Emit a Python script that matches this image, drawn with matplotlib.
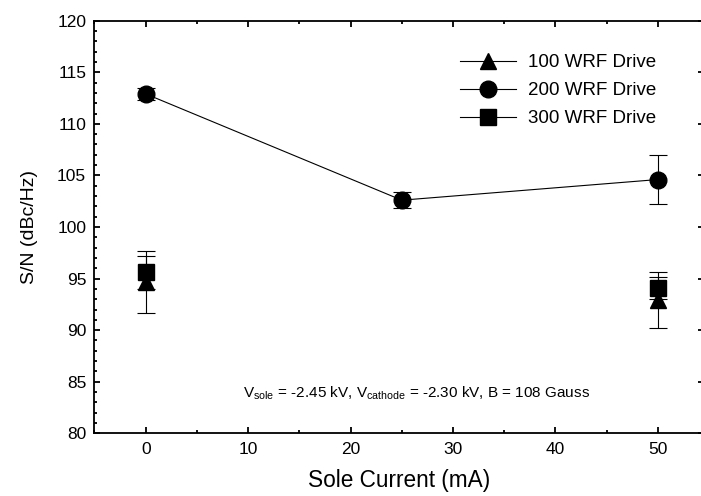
import matplotlib
matplotlib.use("Agg")
import matplotlib.pyplot as plt
from matplotlib.lines import Line2D
from matplotlib.ticker import MultipleLocator

# data
current_200 = [0, 25, 50]
sn_200 = [112.9, 102.6, 104.6]
err_200 = [0.6, 0.8, 2.35]

current_100 = [0, 50]
sn_100 = [94.7, 92.9]
err_100 = [3.0, 2.7]

current_300 = [0, 50]
sn_300 = [95.6, 94.1]
err_300 = [1.6, 1.1]

labels = ["100 WRF Drive", "200 WRF Drive", "300 WRF Drive"]

plt.rcParams["font.family"] = ["Liberation Sans", "DejaVu Sans"]
plt.rcParams["mathtext.fontset"] = "custom"
plt.rcParams["mathtext.rm"] = "Liberation Sans"

fig = plt.figure(figsize=(7.01, 4.96), dpi=100)
ax = fig.add_axes([0.1348, 0.1264, 0.8695, 0.8319])

ebkw = dict(color="black", elinewidth=0.8, capsize=6.5, capthick=0.8)
ax.errorbar(current_100, sn_100, yerr=err_100, fmt="^", ms=12, linestyle="none", **ebkw)
ax.errorbar(current_300, sn_300, yerr=err_300, fmt="s", ms=11, linestyle="none", **ebkw)
ax.errorbar(current_200, sn_200, yerr=err_200, fmt="-o", ms=12, lw=0.8, **ebkw)

ax.set_xlim(-5, 54.5)
ax.set_ylim(80, 120)
ax.xaxis.set_major_locator(MultipleLocator(10))
ax.xaxis.set_minor_locator(MultipleLocator(5))
ax.yaxis.set_major_locator(MultipleLocator(5))
ax.yaxis.set_minor_locator(MultipleLocator(1))
ax.tick_params(which="both", direction="in", top=True, right=True, width=1.3, colors="black")
ax.tick_params(which="major", length=4.5, labelsize=12.5, pad=6)
ax.tick_params(which="minor", length=2.5)
for sp in ax.spines.values():
    sp.set_linewidth(1.3)

ax.set_xlabel("Sole Current (mA)", fontsize=16.3, labelpad=9)
ax.set_ylabel("S/N (dBc/Hz)", fontsize=14, labelpad=14)

ax.text(9.5, 83.5, r"V$_{\rm sole}$ = -2.45 kV, V$_{\rm cathode}$ = -2.30 kV, B = 108 Gauss",
        fontsize=11, ha="left", va="baseline")

handles = [Line2D([], [], color="black", marker=m, ms=s, lw=0.8)
           for m, s in zip(["^", "o", "s"], [12, 12, 11])]
ax.legend(handles, labels, loc="upper left", bbox_to_anchor=(460 / 701, 1 - 54 / 496),
          bbox_transform=fig.transFigure, frameon=False, fontsize=13.5,
          handlelength=3.0, handletextpad=0.6, labelspacing=0.58,
          borderpad=0, borderaxespad=0)

fig.savefig("out.png", dpi=100)
